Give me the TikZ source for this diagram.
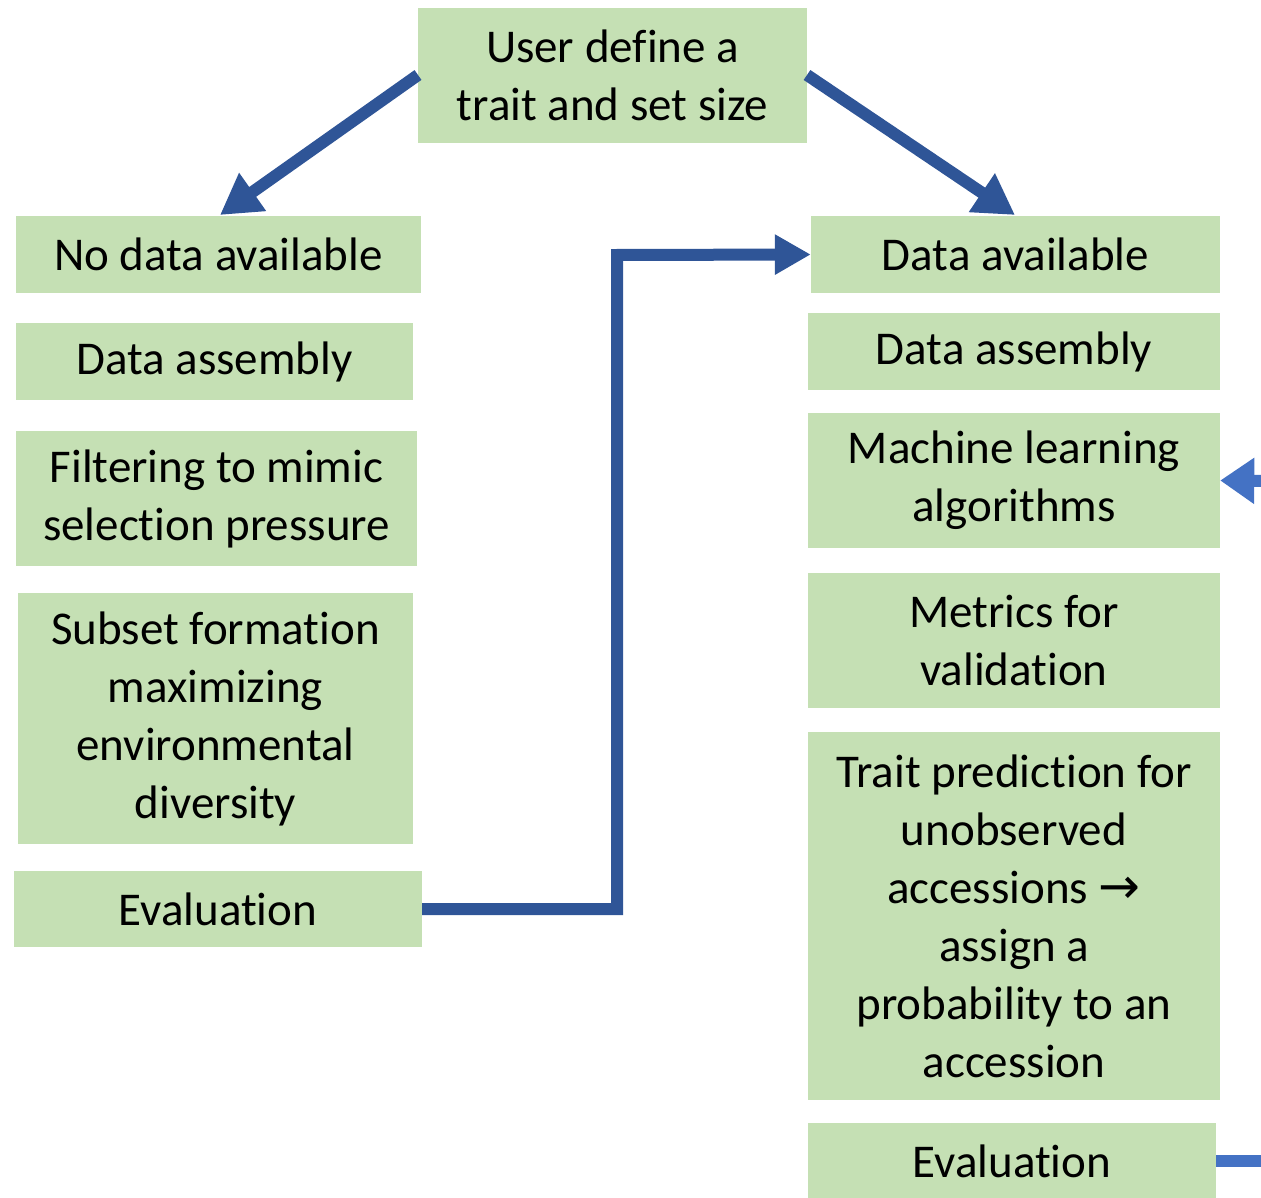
\documentclass[tikz,border=0pt]{standalone}
\usepackage{fontspec}
\setmainfont{Carlito}[Ligatures=NoCommon]
\usetikzlibrary{arrows.meta}
\definecolor{boxgreen}{HTML}{C5E0B4}
\definecolor{darkblue}{HTML}{2F5597}
\definecolor{lightblue}{HTML}{4472C4}
\tikzset{
  stepbox/.style={fill=boxgreen, draw=none, inner sep=0pt, align=center,
    font=\fontsize{47}{58}\selectfont},
  mainarrow/.style={draw=darkblue, line width=12pt,
    -{Triangle[length=40pt,width=44pt]}},
  elbowarrow/.style={draw=darkblue, line width=12pt, line join=miter,
    -{Triangle[length=36pt,width=38pt]}},
  sidearrow/.style={draw=lightblue, line width=12pt,
    -{Triangle[length=34pt,width=44pt]}},
  sideline/.style={draw=lightblue, line width=12pt}
}
\begin{document}
\begin{tikzpicture}[x=1pt,y=-1pt]
\useasboundingbox (0,0) rectangle (1261,1198);
% boxes
\node[stepbox, minimum width=389pt, minimum height=135pt] (top) at (612.5,75.5) {User define a\\trait and set size};
\node[stepbox, minimum width=405pt, minimum height=77pt] (nodata) at (218.5,254.5) {No data available};
\node[stepbox, minimum width=397pt, minimum height=77pt] (asmL) at (214.5,361.5) {Data assembly};
\node[stepbox, minimum width=401pt, minimum height=135pt] (filt) at (216.5,498.5) {Filtering to mimic\\selection pressure};
\node[stepbox, minimum width=395pt, minimum height=251pt] (subset) at (215.5,718.5) {Subset formation\\maximizing\\environmental\\diversity};
\node[stepbox, minimum width=408pt, minimum height=76pt] (evalL) at (218,909) {Evaluation};
\node[stepbox, minimum width=409pt, minimum height=77pt] (data) at (1015.5,254.5) {Data available};
\node[stepbox, minimum width=412pt, minimum height=77pt] (asmR) at (1014,351.5) {Data assembly};
\node[stepbox, minimum width=412pt, minimum height=135pt] (ml) at (1014,480.5) {Machine learning\\algorithms};
\node[stepbox, minimum width=412pt, minimum height=135pt] (metrics) at (1014,640.5) {Metrics for\\validation};
\node[stepbox, minimum width=412pt, minimum height=368pt] (pred) at (1014,916) {Trait prediction for\\unobserved\\accessions {\fontspec{DejaVu Sans}\fontsize{50}{58}\selectfont →}\\assign a\\probability to an\\accession};
\node[stepbox, minimum width=408pt, minimum height=76pt] (evalR) at (1012,1161) {Evaluation};
% connectors
\coordinate (tl) at (418,75);
\coordinate (tr) at (807,75);
\coordinate (nodatatip) at (220,215);
\coordinate (datatip) at (1015,215);
\draw[mainarrow] (tl) -- (nodatatip);
\draw[mainarrow] (tr) -- (datatip);
\draw[elbowarrow] (evalL.east) -- (617,909) -- (617,255) -- (data.west);
\coordinate (mlin) at (1275,481);
\draw[sidearrow] (mlin) -- (ml.east);
\coordinate (evout) at (1275,1161);
\draw[sideline] (evalR.east) -- (evout);
\end{tikzpicture}
\end{document}
